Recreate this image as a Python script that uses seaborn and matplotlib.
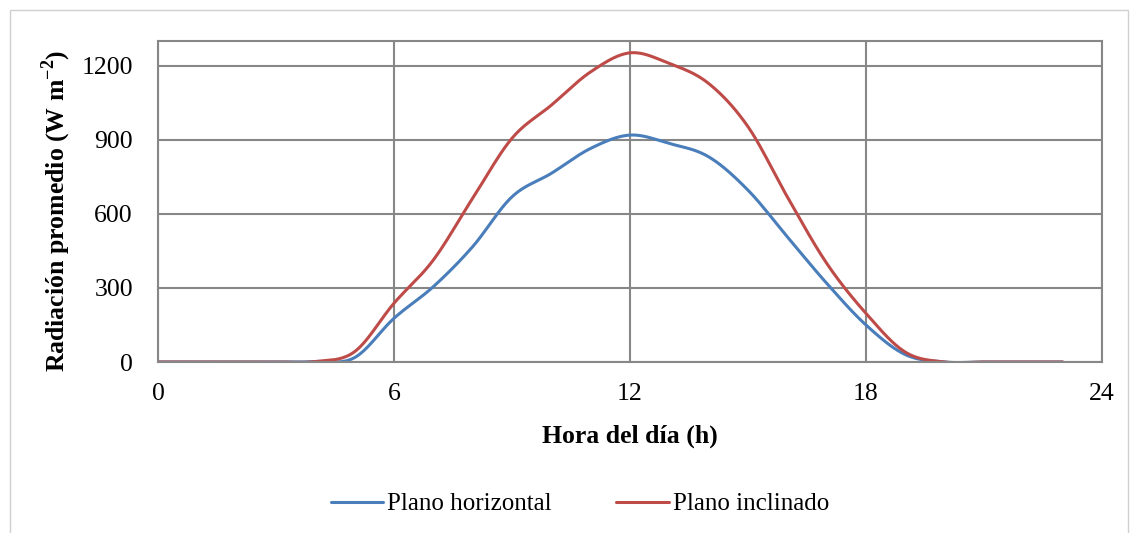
import numpy as np
import pandas as pd
import matplotlib
matplotlib.use("Agg")
import matplotlib.pyplot as plt
from matplotlib.lines import Line2D
import seaborn as sns

# hourly averages
hours = list(range(24))
horizontal = [0, 0, 0, 0, 2, 18, 177, 305, 467, 669, 764, 865,
              919, 885, 831, 696, 507, 319, 150, 30, 0, 0, 0, 0]
inclinado = [0, 0, 0, 0, 2, 42, 238, 413, 663, 906, 1040, 1175,
             1252, 1209, 1128, 953, 669, 400, 197, 40, 0, 0, 0, 0]
series_names = ["Plano horizontal", "Plano inclinado"]
colors = ["#4A7EBB", "#BE4B48"]


def smooth(x, y, n=20):
    # Excel-style smoothed line (Catmull-Rom / Bezier through the points)
    x = np.asarray(x, float)
    y = np.asarray(y, float)
    px = np.concatenate([[x[0]], x, [x[-1]]])
    py = np.concatenate([[y[0]], y, [y[-1]]])
    xs, ys = [], []
    t = np.linspace(0, 1, n, endpoint=False)
    for i in range(1, len(px) - 2):
        p0, p1, p2, p3 = (np.array([px[j], py[j]]) for j in range(i - 1, i + 3))
        c1 = p1 + (p2 - p0) / 6
        c2 = p2 - (p3 - p1) / 6
        pts = ((1 - t) ** 3)[:, None] * p1 + (3 * (1 - t) ** 2 * t)[:, None] * c1 \
            + (3 * (1 - t) * t ** 2)[:, None] * c2 + (t ** 3)[:, None] * p2
        xs.extend(pts[:, 0])
        ys.extend(pts[:, 1])
    xs.append(x[-1])
    ys.append(y[-1])
    return xs, ys


frames = []
for name, vals in zip(series_names, [horizontal, inclinado]):
    sx, sy = smooth(hours, vals)
    frames.append(pd.DataFrame({"Hora": sx, "Radiacion": sy, "Serie": name}))
df = pd.concat(frames, ignore_index=True)

sns.set_style("white")
plt.rcParams["font.family"] = ["Liberation Serif", "DejaVu Serif"]
plt.rcParams["mathtext.fontset"] = "custom"
plt.rcParams["mathtext.rm"] = "Liberation Serif"
plt.rcParams["mathtext.bf"] = "Liberation Serif:bold"
plt.rcParams["text.color"] = "black"
plt.rcParams["axes.labelcolor"] = "black"

fig = plt.figure(figsize=(11.3, 5.33), dpi=100)
ax = fig.add_axes([0.1398, 0.3208, 0.8354, 0.6023])

sns.lineplot(data=df, x="Hora", y="Radiacion", hue="Serie", palette=colors,
             linewidth=2.2, ax=ax, legend=False, sort=False, estimator=None)

grid_c = "#878787"
ax.set_xlim(0, 24)
ax.set_ylim(0, 1300)
ax.set_xticks([0, 6, 12, 18, 24])
ax.set_yticks([0, 300, 600, 900, 1200])
ax.grid(True, color=grid_c, linewidth=1.5)
ax.set_axisbelow(True)
for s in ax.spines.values():
    s.set_color(grid_c)
    s.set_linewidth(1.5)
ax.tick_params(axis="both", length=0, labelsize=18.5, colors="black")
ax.tick_params(axis="x", pad=15)
ax.tick_params(axis="y", pad=18)

ax.set_xlabel("Hora del día (h)", fontsize=18.5, fontweight="bold", labelpad=14)
ax.set_ylabel(r"Radiación promedio (W m$^{\mathbf{-2}}$)", fontsize=18.5,
              fontweight="bold")
ax.yaxis.set_label_coords(-0.09, 0.47)

handles = [Line2D([0], [0], color=c, linewidth=2.2) for c in colors]
fig.legend(handles, series_names, loc="center", bbox_to_anchor=(0.513, 0.054),
           ncol=2, frameon=False, fontsize=18, handlelength=2.1, columnspacing=2.6,
           handletextpad=0.15)

fig.patches.append(plt.Rectangle((10 / 1130, -0.01), 1118 / 1130, 1 - 10 / 533 + 0.01,
                                 transform=fig.transFigure, fill=False,
                                 edgecolor="#D0D0D0", linewidth=1.0))

fig.savefig("out.png", dpi=100)
